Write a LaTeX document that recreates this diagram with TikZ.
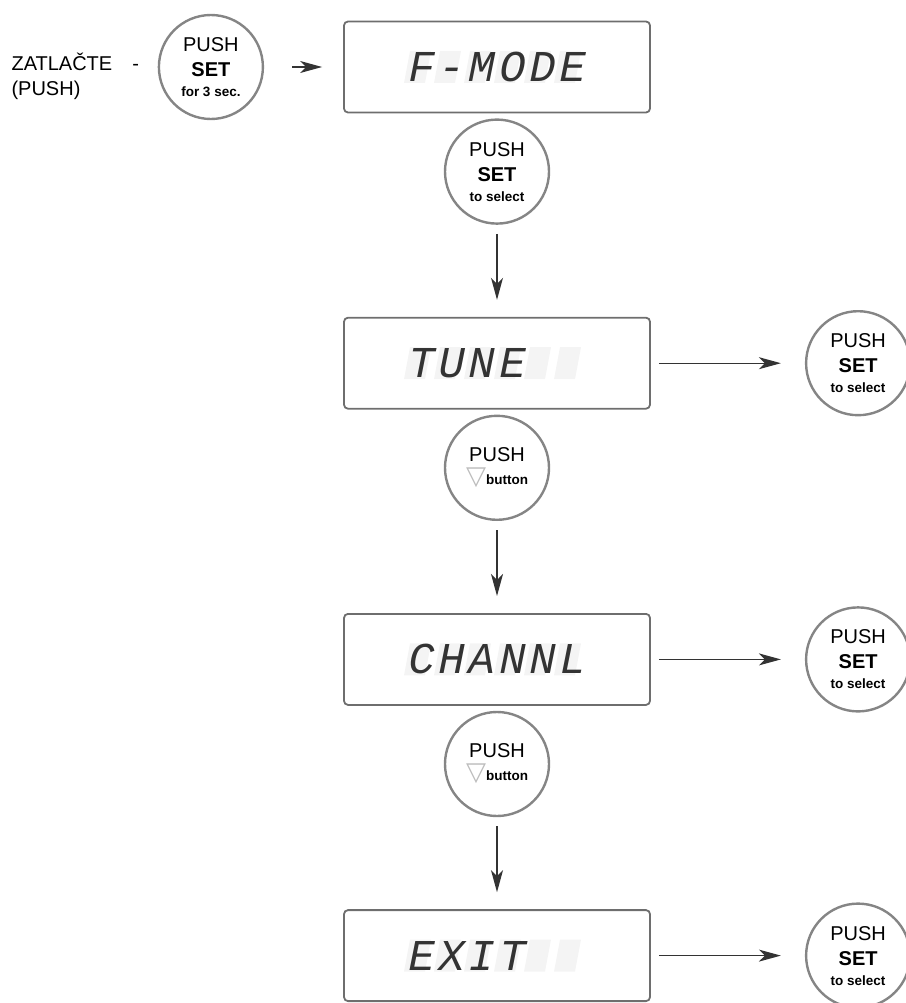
\documentclass[tikz,border=0pt]{standalone}
\usepackage{fontspec}
\setmainfont{Liberation Sans}
\newfontfamily\lcdfont[FakeSlant=0.2,LetterSpace=9]{Liberation Mono}
\newfontfamily\symfont{DejaVu Sans}
\usetikzlibrary{arrows.meta,positioning,backgrounds}
\definecolor{lineGray}{HTML}{6E6E6E}
\definecolor{ringGray}{HTML}{858585}
\definecolor{ghostGray}{HTML}{F4F4F4}
\newcommand{\smallbold}{\fontsize{13.5}{15}\selectfont\bfseries}

\begin{document}
\begin{tikzpicture}[x=1pt,y=-1pt,
    node distance=5pt and 5pt,
    lcd/.style={draw=lineGray,line width=1.8pt,rounded corners=4pt,
      minimum width=306pt,minimum height=91pt,text width=182pt,align=left,
      inner xsep=0pt,font=\lcdfont\fontsize{44}{44}\selectfont,text=black!80},
    btn/.style={circle,draw=ringGray,line width=2.4pt,minimum size=104pt,
      inner sep=0pt,align=center,font=\fontsize{20}{25}\selectfont},
    arrow/.style={-{Stealth[length=22pt,width=12pt,inset=6pt]},
      line width=1.3pt,draw=black!80}]
  \useasboundingbox (0,0) rectangle (905,1003);
  % display column
  \node[lcd] (fmode) at (497,67) {\mbox{F-MODE}};
  \node[btn,below=of fmode] (setA) {PUSH\\\textbf{SET}\\[-5pt]{\smallbold to select}};
  \node[lcd,below=92pt of setA] (tune) {TUNE};
  \node[btn,below=of tune] (downA)
    {PUSH\\[-2pt]{\symfont\color{ringGray!55}\fontsize{26}{26}\selectfont▽}{\smallbold button}};
  \node[lcd,below=92pt of downA] (channl) {CHANNL};
  \node[btn,below=of channl] (downB)
    {PUSH\\[-2pt]{\symfont\color{ringGray!55}\fontsize{26}{26}\selectfont▽}{\smallbold button}};
  \node[lcd,below=92pt of downB] (exit) {EXIT};
  % select buttons on the right
  \node[btn,right=154pt of tune] (setTune) {PUSH\\\textbf{SET}\\[-5pt]{\smallbold to select}};
  \node[btn,right=154pt of channl] (setChannl) {PUSH\\\textbf{SET}\\[-5pt]{\smallbold to select}};
  \node[btn,right=154pt of exit] (setExit) {PUSH\\\textbf{SET}\\[-5pt]{\smallbold to select}};
  % start
  \node[btn,left=79pt of fmode] (setHold) {PUSH\\\textbf{SET}\\[-5pt]{\smallbold for 3 sec.}};
  \node[align=left,anchor=west,font=\fontsize{20}{25}\selectfont] (hint)
    at (8,76) {ZATLAČTE\quad -\\(PUSH)};
  % unlit segments
  \begin{scope}[on background layer]
    \foreach \b in {fmode,tune,channl,exit}
      \foreach \i in {0,...,5}
        \fill[ghostGray] ([shift={(-93+30*\i,16)}]\b.center)
          -- ++(21,0) -- ++(6,-32) -- ++(-21,0) -- cycle;
  \end{scope}
  \draw[arrow,shorten <=28pt,shorten >=21pt] (setHold) -- (fmode);
  \draw[arrow,shorten <=9pt,shorten >=17pt] (setA) -- (tune);
  \draw[arrow,shorten <=9pt,shorten >=17pt] (downA) -- (channl);
  \draw[arrow,shorten <=9pt,shorten >=17pt] (downB) -- (exit);
  \draw[arrow,shorten <=8pt,shorten >=24pt] (tune) -- (setTune);
  \draw[arrow,shorten <=8pt,shorten >=24pt] (channl) -- (setChannl);
  \draw[arrow,shorten <=8pt,shorten >=24pt] (exit) -- (setExit);
\end{tikzpicture}
\end{document}
